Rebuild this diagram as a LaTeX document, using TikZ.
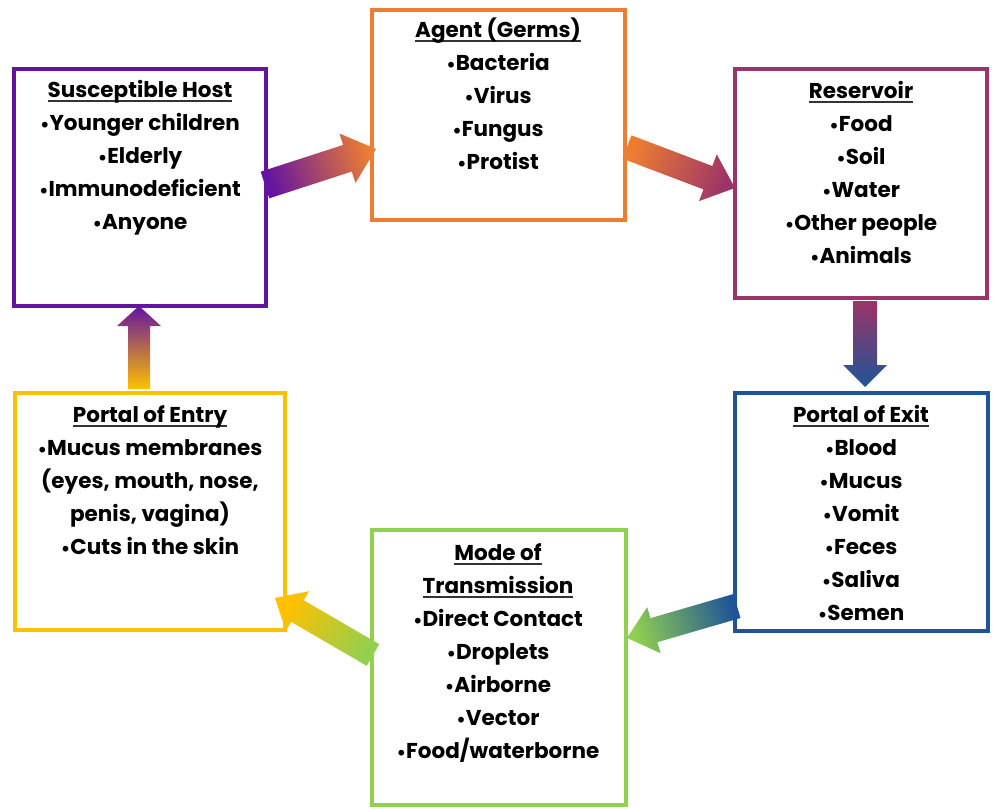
\documentclass[tikz,border=0pt]{standalone}
\usepackage{fontspec}
\setmainfont{Poppins}
\usetikzlibrary{calc}
\definecolor{cpurple}{HTML}{6414A0}
\definecolor{corange}{HTML}{ED7D31}
\definecolor{cmaroon}{HTML}{9B3468}
\definecolor{cblue}{HTML}{1F5596}
\definecolor{cgreen}{HTML}{92D050}
\definecolor{cyellow}{HTML}{FFC000}
\definecolor{uline}{HTML}{333333}
\newcommand\hdr[1]{\setbox0\hbox{#1}\rlap{\textcolor{uline}{\rule[-5pt]{\wd0}{1.8pt}}}\box0}
\newcommand\bul{\raisebox{-1pt}{\fontsize{19}{19}\selectfont •}}
\newcommand\fl{\rule{0pt}{20pt}}
% block arrow: tail, tip, shaft half width, head half width, head length, tail colour, tip colour, shading angle
\newcommand\barrow[8]{%
  \coordinate (#1-b) at ($(#2)!#5!(#1)$);
  \shade[bottom color=#6, top color=#7, shading angle=#8]
    ($(#1)!#3!90:(#2)$) -- ($(#1-b)!#3!90:(#2)$) -- ($(#1-b)!#4!90:(#2)$) -- (#2)
    -- ($(#1-b)!#4!-90:(#2)$) -- ($(#1-b)!#3!-90:(#2)$) -- ($(#1)!#3!-90:(#2)$) -- cycle;}
\begin{document}
\begin{tikzpicture}[x=1pt,y=-1pt,
  box/.style={draw, line width=4pt, inner sep=0pt, fill=white},
  txt/.style={anchor=north, align=center, inner sep=0pt, font=\fontsize{21.5}{33}\selectfont\bfseries}]
\useasboundingbox (0,0) rectangle (1000,808);
\fill[white] (0,0) rectangle (1000,808);
% boxes
\node[box, draw=cpurple, minimum width=252pt, minimum height=237pt] (host) at (140,187.5) {};
\node[box, draw=corange, minimum width=253pt, minimum height=210pt] (agent) at (498.5,115) {};
\node[box, draw=cmaroon, minimum width=252pt, minimum height=229pt] (res) at (861,183.5) {};
\node[box, draw=cblue, minimum width=253pt, minimum height=238pt] (exit) at (861.5,512) {};
\node[box, draw=cgreen, minimum width=254pt, minimum height=275pt] (mode) at (499,667.5) {};
\node[box, draw=cyellow, minimum width=270pt, minimum height=237pt] (entry) at (150,511.5) {};
% texts
\node[txt] (host-t) at (140,77) {\fl\hdr{Susceptible Host}\\\bul Younger children\\\bul Elderly\\\bul Immunodeficient\\\bul Anyone};
\node[txt] (agent-t) at (498,17) {\fl\hdr{Agent (Germs)}\\\bul Bacteria\\\bul Virus\\\bul Fungus\\\bul Protist};
\node[txt] (res-t) at (861,78) {\fl\hdr{Reservoir}\\\bul Food\\\bul Soil\\\bul Water\\\bul Other people\\\bul Animals};
\node[txt] (exit-t) at (861,402) {\fl\hdr{Portal of Exit}\\\bul Blood\\\bul Mucus\\\bul Vomit\\\bul Feces\\\bul Saliva\\\bul Semen};
\node[txt] (mode-t) at (498,540) {\fl\hdr{Mode of}\\\hdr{Transmission}\\\bul Direct Contact\\\bul Droplets\\\bul Airborne\\\bul Vector\\\bul Food/waterborne};
\node[txt] (entry-t) at (150,402) {\fl\hdr{Portal of Entry}\\\bul Mucus membranes\\(eyes, mouth, nose,\\penis, vagina)\\\bul Cuts in the skin};
% arrows
\coordinate (a1t) at (265,185); \coordinate (a1p) at (376,149);
\coordinate (a2t) at (627,147); \coordinate (a2p) at (735,188);
\coordinate (a3t) at (865,301); \coordinate (a3p) at (865,387);
\coordinate (a4t) at (737,606); \coordinate (a4p) at (627,638);
\coordinate (a5t) at (373,655); \coordinate (a5p) at (275,598);
\coordinate (a6t) at (139,389); \coordinate (a6p) at (139,306);
\barrow{a1t}{a1p}{14pt}{26pt}{30pt}{cpurple}{corange}{-72}
\barrow{a2t}{a2p}{12.5pt}{25pt}{29pt}{corange}{cmaroon}{-111}
\barrow{a3t}{a3p}{12pt}{22pt}{22pt}{cmaroon}{cblue}{-180}
\barrow{a4t}{a4p}{12.5pt}{24pt}{28pt}{cblue}{cgreen}{106}
\barrow{a5t}{a5p}{12.5pt}{23pt}{26pt}{cgreen}{cyellow}{60}
\barrow{a6t}{a6p}{11pt}{22pt}{20pt}{cyellow}{cpurple}{0}
\end{tikzpicture}
\end{document}
